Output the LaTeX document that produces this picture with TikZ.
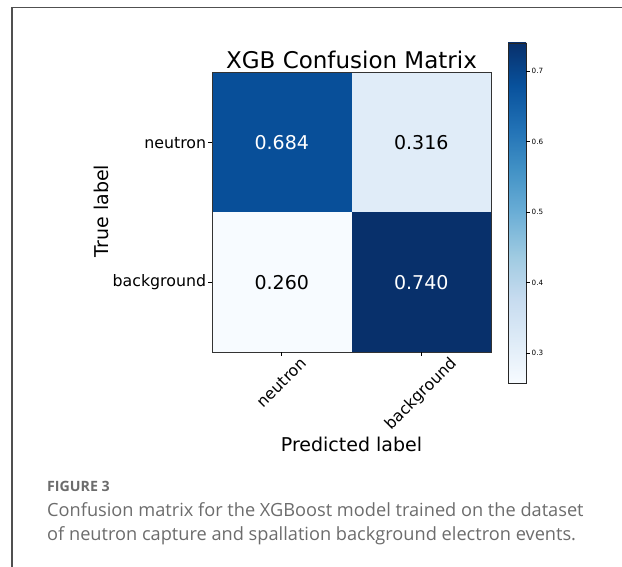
\documentclass[tikz,border=0pt]{standalone}
\usepackage{fontspec}
\setmainfont{DejaVu Sans}
\newfontfamily\capfont{Open Sans}
\usetikzlibrary{positioning}
\definecolor{frameline}{HTML}{505050}
\definecolor{capgray}{HTML}{6C6C6C}
\definecolor{cellhi}{HTML}{084F99}
\definecolor{celllo}{HTML}{E0ECF8}
% Blues colour map, bottom to top
\definecolor{blues0}{HTML}{F7FBFF}
\definecolor{blues1}{HTML}{DEEBF7}
\definecolor{blues2}{HTML}{C6DBEF}
\definecolor{blues3}{HTML}{9ECAE1}
\definecolor{blues4}{HTML}{6BAED6}
\definecolor{blues5}{HTML}{4292C6}
\definecolor{blues6}{HTML}{2171B5}
\definecolor{blues7}{HTML}{08519C}
\definecolor{blues8}{HTML}{08306B}

\begin{document}
\begin{tikzpicture}[x=1pt,y=-1pt,
		cell/.style={minimum size=139.5pt,inner sep=0pt,font=\fontsize{19}{19}\selectfont},
		tick/.style={line width=0.6pt,draw=black},
		ticklab/.style={font=\fontsize{15.8}{16}\selectfont,inner sep=0pt},
		axlab/.style={font=\fontsize{19}{19}\selectfont,inner sep=0pt},
		cbar/.style={font=\fontsize{7.2}{7}\selectfont,inner sep=0pt,anchor=west},
		captext/.style={text=capgray,anchor=base west,inner sep=0pt}
		]
		\useasboundingbox (0,0) rectangle (622,567);
		\draw[frameline,line width=1.3pt] (622,7.5) -- (12,7.5) -- (12,567);
		% matrix cells
		\node[cell,fill=cellhi,text=white] (c11) at (281.75,142.75) {0.684};
		\node[cell,fill=celllo] (c12) at (421.25,142.75) {0.316};
		\node[cell,fill=blues0] (c21) at (281.75,282.25) {0.260};
		\node[cell,fill=blues8,text=white] (c22) at (421.25,282.25) {0.740};
		\draw[line width=0.6pt,draw=black!80] (c11.north west) rectangle (c22.south east);
		\node[font=\fontsize{23}{23}\selectfont,anchor=base,inner sep=0pt] (title) at (351.5,69) {XGB Confusion Matrix};
		% ticks and tick labels
		\coordinate (t1) at (c11.west); \coordinate (t2) at (c21.west);
		\coordinate (s1) at (c21.south); \coordinate (s2) at (c22.south);
		\foreach \t in {t1,t2} \draw[tick] (\t) -- ++(-3.5,0);
		\foreach \s in {s1,s2} \draw[tick] (\s) -- ++(0,3.5);
		\node[ticklab,anchor=east] (rn) at ([xshift=-5.5pt]t1) {neutron};
		\node[ticklab,anchor=east] (rb) at ([xshift=-5.5pt]t2) {background};
		\node[ticklab,rotate=45] (cn) at ([yshift=-30.5pt]s1) {neutron};
		\node[ticklab,rotate=45] (cb) at ([yshift=-42pt]s2) {background};
		\node[axlab,rotate=90] (ylab) at (101.5,211) {True label};
		\node[axlab,anchor=base] (xlab) at (351.5,451) {Predicted label};
		% colour bar
		\foreach \i [evaluate=\i as \j using int(\i+1)] in {0,...,7}
			\shade[bottom color=blues\i,top color=blues\j] (508,{383-42.5*\i}) rectangle (526,{383-42.5*\j-0.3});
		\node[draw=black!85,line width=0.6pt,minimum width=18pt,minimum height=340pt,inner sep=0pt] (bar) at (517,213) {};
		\foreach \v in {3,...,7} {
			\draw[tick,line width=0.4pt] (526,{353-70.5*(\v-3)}) -- ++(3.5,0);
			\node[cbar] (cb\v) at (531.5,{353-70.5*(\v-3)}) {0.\v};
		}
		% caption
		\node[captext,font=\capfont\bfseries\fontsize{14.2}{14}\selectfont] (fig) at (47,491) {FIGURE 3};
		\node[captext,font=\capfont\fontsize{18.2}{18}\selectfont] (cap1) at (47,516) {Confusion matrix for the XGBoost model trained on the dataset};
		\node[captext,font=\capfont\fontsize{18.2}{18}\selectfont] (cap2) at (47,540) {of neutron capture and spallation background electron events.};
	\end{tikzpicture}
\end{document}
